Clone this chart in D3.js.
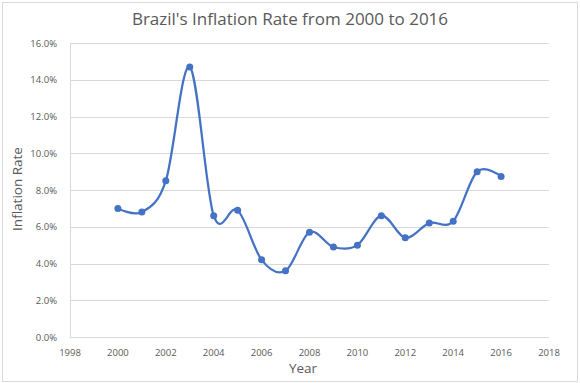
<!DOCTYPE html>
<html><head><meta charset="utf-8">
<script src="https://cdn.jsdelivr.net/npm/d3@7"></script>
<style>body{margin:0;background:#fff}svg{display:block}text{font-family:"Open Sans","Noto Sans",sans-serif}</style>
</head><body><svg id="c" width="580" height="383"></svg>
<script>
const years = [2000,2001,2002,2003,2004,2005,2006,2007,2008,2009,2010,2011,2012,2013,2014,2015,2016];
const rates = [7.0,6.8,8.5,14.7,6.6,6.9,4.2,3.6,5.7,4.9,5.0,6.6,5.4,6.2,6.3,9.0,8.74];
const xTicks = [1998,2000,2002,2004,2006,2008,2010,2012,2014,2016,2018];
const yTicks = [0,2,4,6,8,10,12,14,16];
const title = "Brazil's Inflation Rate from 2000 to 2016";
const xTitle = "Year", yTitle = "Inflation Rate";

const svg = d3.select("#c");
svg.append("rect").attr("x",2.5).attr("y",2.5).attr("width",575).attr("height",379)
  .attr("fill","#fff").attr("stroke","#d9d9d9");
const x = d3.scaleLinear().domain([1998,2018]).range([70,549]);
const y = d3.scaleLinear().domain([0,16]).range([337,43]);
const grey = "#595959";

svg.append("g").selectAll("line").data(yTicks.filter(d=>d>0)).join("line")
  .attr("x1",x(1998)).attr("x2",x(2018)).attr("y1",d=>Math.round(y(d))+0.5).attr("y2",d=>Math.round(y(d))+0.5)
  .attr("stroke","#d9d9d9").attr("stroke-width",1);
svg.append("line").attr("x1",x(1998)).attr("x2",x(2018)).attr("y1",337.5).attr("y2",337.5).attr("stroke","#d9d9d9");
svg.append("line").attr("x1",x(1998)+0.5).attr("x2",x(1998)+0.5).attr("y1",y(16)).attr("y2",337.5).attr("stroke","#d9d9d9");

svg.append("g").selectAll("text").data(yTicks).join("text")
  .attr("x",57).attr("y",d=>y(d)+3.5).attr("text-anchor","end").attr("font-size",9.5).attr("fill",grey)
  .text(d=>d.toFixed(1)+"%");
svg.append("g").selectAll("text").data(xTicks).join("text")
  .attr("x",d=>x(d)).attr("y",355.5).attr("text-anchor","middle").attr("font-size",9.5).attr("fill",grey)
  .text(d=>d);

svg.append("text").attr("x",290).attr("y",25).attr("text-anchor","middle").attr("font-size",17).attr("fill",grey).text(title);
svg.append("text").attr("x",303).attr("y",373).attr("text-anchor","middle").attr("font-size",13.5).attr("fill",grey).text(xTitle);
svg.append("text").attr("transform","translate(21.5,189) rotate(-90)").attr("text-anchor","middle").attr("font-size",13.5).attr("fill",grey).text(yTitle);

const data = years.map((d,i)=>[d,rates[i]]);
svg.append("path").datum(data)
  .attr("d",d3.line().x(d=>x(d[0])).y(d=>y(d[1])).curve(d3.curveCatmullRom.alpha(0)))
  .attr("fill","none").attr("stroke","#4472C4").attr("stroke-width",2.25);
svg.append("g").selectAll("circle").data(data).join("circle")
  .attr("cx",d=>x(d[0])).attr("cy",d=>y(d[1])).attr("r",3.5).attr("fill","#4472C4");
</script></body></html>
